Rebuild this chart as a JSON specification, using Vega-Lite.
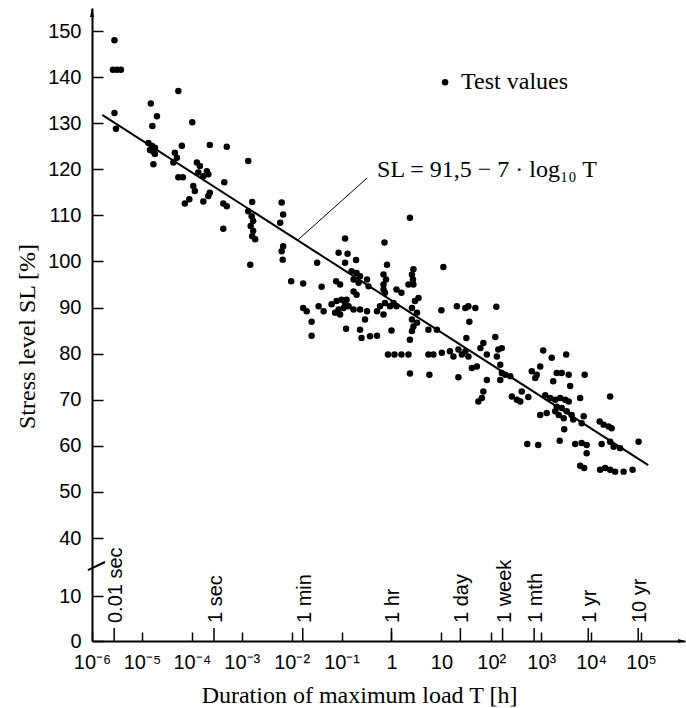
{
  "$schema": "https://vega.github.io/schema/vega-lite/v6.json",
  "width": 593,
  "height": 633,
  "autosize": {"type": "none"},
  "padding": {"left": 92, "top": 8, "right": 1, "bottom": 67},
  "background": "white",
  "config": {
    "view": {"stroke": null},
    "font": "Liberation Sans",
    "axis": {"grid": false, "domainColor": "black", "tickColor": "black", "labelColor": "black", "titleColor": "black"}
  },
  "layer": [
    {
      "data": {"values": [
        {"T": 2.82e-6, "SL": 148.0}, {"T": 2.63e-6, "SL": 141.6}, {"T": 3.16e-6, "SL": 141.6}, {"T": 3.80e-6, "SL": 141.6},
        {"T": 2.82e-6, "SL": 132.2}, {"T": 3.02e-6, "SL": 128.8}, {"T": 1.51e-5, "SL": 134.3}, {"T": 2.00e-5, "SL": 131.5},
        {"T": 1.62e-5, "SL": 129.4}, {"T": 5.37e-5, "SL": 137.0}, {"T": 1.02e-4, "SL": 130.2}, {"T": 1.35e-5, "SL": 125.7},
        {"T": 1.58e-5, "SL": 125.1}, {"T": 1.82e-5, "SL": 124.7}, {"T": 1.45e-5, "SL": 124.2}, {"T": 1.70e-5, "SL": 123.8},
        {"T": 1.82e-5, "SL": 123.3}, {"T": 1.70e-5, "SL": 121.1}, {"T": 6.31e-5, "SL": 125.1}, {"T": 4.57e-5, "SL": 123.6},
        {"T": 5.01e-5, "SL": 122.5}, {"T": 4.27e-5, "SL": 121.5}, {"T": 5.37e-5, "SL": 118.3}, {"T": 6.61e-5, "SL": 118.3},
        {"T": 1.26e-4, "SL": 121.5}, {"T": 1.45e-4, "SL": 120.7}, {"T": 1.35e-4, "SL": 119.3}, {"T": 2.00e-4, "SL": 119.6},
        {"T": 2.14e-4, "SL": 118.9}, {"T": 1.70e-4, "SL": 118.5}, {"T": 2.29e-4, "SL": 125.3}, {"T": 5.01e-4, "SL": 124.9},
        {"T": 1.07e-4, "SL": 116.4}, {"T": 1.15e-4, "SL": 115.3}, {"T": 7.24e-5, "SL": 112.6}, {"T": 8.91e-5, "SL": 113.5},
        {"T": 1.70e-4, "SL": 113.0}, {"T": 2.14e-4, "SL": 114.2}, {"T": 2.29e-4, "SL": 114.9}, {"T": 4.47e-4, "SL": 117.2},
        {"T": 4.27e-4, "SL": 112.6}, {"T": 5.01e-4, "SL": 112.0}, {"T": 4.27e-4, "SL": 107.1},
        {"T": 1.35e-3, "SL": 121.8}, {"T": 1.62e-3, "SL": 112.9}, {"T": 1.35e-3, "SL": 110.9}, {"T": 1.58e-3, "SL": 109.8},
        {"T": 1.70e-3, "SL": 108.8}, {"T": 1.51e-3, "SL": 107.7}, {"T": 1.70e-3, "SL": 106.6}, {"T": 1.62e-3, "SL": 105.5},
        {"T": 1.86e-3, "SL": 104.8}, {"T": 1.48e-3, "SL": 99.3}, {"T": 6.31e-3, "SL": 112.8}, {"T": 6.76e-3, "SL": 110.2},
        {"T": 5.89e-3, "SL": 108.4}, {"T": 6.76e-3, "SL": 103.3}, {"T": 6.31e-3, "SL": 102.2}, {"T": 6.61e-3, "SL": 100.4},
        {"T": 0.0324, "SL": 99.7}, {"T": 0.00977, "SL": 95.7}, {"T": 0.0170, "SL": 95.2}, {"T": 0.0398, "SL": 94.5},
        {"T": 0.1175, "SL": 105.0}, {"T": 0.0871, "SL": 101.9}, {"T": 0.1318, "SL": 101.7}, {"T": 0.195, "SL": 100.3},
        {"T": 0.1175, "SL": 99.7}, {"T": 0.1585, "SL": 97.9}, {"T": 0.1995, "SL": 97.5}, {"T": 0.2344, "SL": 96.8},
        {"T": 0.1738, "SL": 96.1}, {"T": 0.2188, "SL": 95.4}, {"T": 0.3236, "SL": 96.1}, {"T": 0.3467, "SL": 94.6},
        {"T": 0.0776, "SL": 95.7}, {"T": 0.0933, "SL": 95.0}, {"T": 0.724, "SL": 104.1}, {"T": 0.813, "SL": 99.3},
        {"T": 0.692, "SL": 97.2}, {"T": 0.776, "SL": 96.1}, {"T": 0.692, "SL": 95.0}, {"T": 2.34, "SL": 109.5},
        {"T": 2.75, "SL": 98.3}, {"T": 2.57, "SL": 97.2}, {"T": 2.69, "SL": 96.1}, {"T": 2.75, "SL": 95.0},
        {"T": 10.96, "SL": 98.8},
        {"T": 0.1738, "SL": 93.5}, {"T": 0.1995, "SL": 92.8}, {"T": 0.692, "SL": 93.9}, {"T": 0.741, "SL": 93.2},
        {"T": 1.26, "SL": 93.9}, {"T": 1.58, "SL": 93.2}, {"T": 2.19, "SL": 95.0}, {"T": 3.47, "SL": 92.1},
        {"T": 2.95, "SL": 91.4}, {"T": 0.0170, "SL": 89.9}, {"T": 0.0200, "SL": 89.2}, {"T": 0.0347, "SL": 90.3},
        {"T": 0.0437, "SL": 89.2}, {"T": 0.0631, "SL": 90.7}, {"T": 0.0794, "SL": 91.4}, {"T": 0.1, "SL": 91.7},
        {"T": 0.1175, "SL": 91.0}, {"T": 0.0871, "SL": 89.6}, {"T": 0.1096, "SL": 89.9}, {"T": 0.138, "SL": 90.3},
        {"T": 0.1738, "SL": 89.6}, {"T": 0.0741, "SL": 88.9}, {"T": 0.0933, "SL": 88.5}, {"T": 0.2344, "SL": 89.6},
        {"T": 0.3236, "SL": 89.2}, {"T": 0.1259, "SL": 91.7}, {"T": 0.513, "SL": 89.2}, {"T": 0.589, "SL": 90.3},
        {"T": 0.741, "SL": 91.0}, {"T": 0.933, "SL": 90.3}, {"T": 1.096, "SL": 91.0}, {"T": 0.692, "SL": 88.5},
        {"T": 1.259, "SL": 90.3}, {"T": 2.57, "SL": 89.9}, {"T": 3.24, "SL": 88.9}, {"T": 0.295, "SL": 87.4},
        {"T": 0.0251, "SL": 86.9}, {"T": 0.0251, "SL": 83.9}, {"T": 0.123, "SL": 85.4}, {"T": 0.2344, "SL": 85.2},
        {"T": 0.251, "SL": 83.4}, {"T": 0.3715, "SL": 83.8}, {"T": 0.513, "SL": 83.9}, {"T": 1.0, "SL": 85.0},
        {"T": 2.57, "SL": 87.4}, {"T": 2.75, "SL": 85.9}, {"T": 3.24, "SL": 86.7}, {"T": 2.57, "SL": 84.9},
        {"T": 2.34, "SL": 83.0}, {"T": 5.50, "SL": 85.2}, {"T": 8.13, "SL": 85.2}, {"T": 10.0, "SL": 89.4},
        {"T": 20.4, "SL": 90.3}, {"T": 0.851, "SL": 79.8}, {"T": 1.148, "SL": 79.8}, {"T": 1.585, "SL": 79.8},
        {"T": 2.19, "SL": 79.8}, {"T": 5.50, "SL": 79.8}, {"T": 6.92, "SL": 79.8}, {"T": 2.34, "SL": 75.7},
        {"T": 5.75, "SL": 75.4}, {"T": 21.9, "SL": 74.9},
        {"T": 30.2, "SL": 89.9}, {"T": 34.7, "SL": 90.3}, {"T": 47.9, "SL": 89.9}, {"T": 126, "SL": 90.2},
        {"T": 36.3, "SL": 86.9}, {"T": 31.6, "SL": 83.4}, {"T": 120, "SL": 83.6}, {"T": 10.2, "SL": 80.2},
        {"T": 14.8, "SL": 80.5}, {"T": 17.4, "SL": 79.4}, {"T": 21.9, "SL": 80.9}, {"T": 25.7, "SL": 79.8},
        {"T": 30.2, "SL": 80.5}, {"T": 34.7, "SL": 79.4}, {"T": 69.2, "SL": 82.3}, {"T": 60.3, "SL": 81.2},
        {"T": 81.3, "SL": 79.8}, {"T": 138, "SL": 80.9}, {"T": 162, "SL": 81.2}, {"T": 129, "SL": 79.4},
        {"T": 40.7, "SL": 76.9}, {"T": 51.3, "SL": 77.2}, {"T": 81.3, "SL": 74.3}, {"T": 151, "SL": 77.6},
        {"T": 162, "SL": 75.8}, {"T": 151, "SL": 74.3}, {"T": 191, "SL": 75.4}, {"T": 240, "SL": 75.1},
        {"T": 69.2, "SL": 71.8}, {"T": 64.6, "SL": 70.4}, {"T": 55.0, "SL": 69.6}, {"T": 257, "SL": 70.7},
        {"T": 324, "SL": 70.0}, {"T": 407, "SL": 71.8}, {"T": 380, "SL": 69.6}, {"T": 550, "SL": 70.6},
        {"T": 1096, "SL": 80.7}, {"T": 1622, "SL": 79.1}, {"T": 3162, "SL": 79.8}, {"T": 646, "SL": 76.2},
        {"T": 813, "SL": 75.4}, {"T": 955, "SL": 77.2}, {"T": 759, "SL": 74.7}, {"T": 2042, "SL": 75.8},
        {"T": 2570, "SL": 75.8}, {"T": 3548, "SL": 75.4}, {"T": 3802, "SL": 73.0}, {"T": 7413, "SL": 75.4},
        {"T": 1738, "SL": 74.0}, {"T": 1202, "SL": 71.0}, {"T": 1514, "SL": 70.4}, {"T": 1905, "SL": 70.0},
        {"T": 2399, "SL": 70.4}, {"T": 3020, "SL": 70.0}, {"T": 3548, "SL": 69.6}, {"T": 2042, "SL": 68.5},
        {"T": 2570, "SL": 68.2}, {"T": 3236, "SL": 67.5}, {"T": 4074, "SL": 66.7}, {"T": 4365, "SL": 65.7},
        {"T": 6026, "SL": 70.4}, {"T": 2818, "SL": 66.0}, {"T": 2239, "SL": 66.7}, {"T": 1905, "SL": 67.5},
        {"T": 955, "SL": 66.7}, {"T": 1288, "SL": 67.1}, {"T": 7079, "SL": 66.4}, {"T": 6457, "SL": 64.9},
        {"T": 2884, "SL": 63.6}, {"T": 23990, "SL": 70.7}, {"T": 14790, "SL": 65.3}, {"T": 17780, "SL": 64.6},
        {"T": 22390, "SL": 64.2}, {"T": 25700, "SL": 63.8}, {"T": 89130, "SL": 60.9}, {"T": 525, "SL": 60.4},
        {"T": 871, "SL": 60.2}, {"T": 2344, "SL": 61.1}, {"T": 4786, "SL": 60.4}, {"T": 6457, "SL": 60.6},
        {"T": 8128, "SL": 60.2}, {"T": 8128, "SL": 58.4}, {"T": 16220, "SL": 60.4}, {"T": 23990, "SL": 60.9},
        {"T": 28180, "SL": 59.8}, {"T": 38020, "SL": 59.5}, {"T": 6026, "SL": 55.7}, {"T": 7244, "SL": 55.2},
        {"T": 15140, "SL": 54.8}, {"T": 19050, "SL": 55.2}, {"T": 23990, "SL": 54.8}, {"T": 30200, "SL": 54.4},
        {"T": 44670, "SL": 54.4}, {"T": 67610, "SL": 54.8}
      ]},
      "mark": {"type": "point", "filled": true, "color": "black", "opacity": 1, "size": 42},
      "encoding": {
        "x": {
          "field": "T", "type": "quantitative",
          "scale": {"type": "log", "domain": [1e-6, 758578], "nice": false},
          "axis": {
            "title": "Duration of maximum load T [h]",
            "values": [1e-6, 1e-5, 1e-4, 1e-3, 0.01, 0.1, 1, 10, 100, 1000, 10000, 100000],
            "labelExpr": "round(log(datum.value)/LN10) == 0 ? '1' : round(log(datum.value)/LN10) == 1 ? '10' : '10' + (datum.value < 1 ? '⁻' : '') + ['⁰','¹','²','³','⁴','⁵','⁶'][abs(round(log(datum.value)/LN10))]",
            "tickSize": -9, "tickWidth": 1.5, "domainWidth": 2,
            "labelPadding": 20, "labelFont": "Liberation Sans", "labelFontSize": 20,
            "labelFlush": false, "labelOverlap": false,
            "titleFont": "Liberation Serif", "titleFontSize": 24, "titleFontWeight": "normal",
            "titleX": 267, "titleY": 61, "titleBaseline": "alphabetic", "titleAlign": "center", "titleAnchor": null
          }
        },
        "y": {
          "field": "SL", "type": "quantitative",
          "scale": {"domain": [0, 10, 40, 155], "range": [633, 588, 530, 0], "nice": false, "zero": false},
          "axis": {
            "title": "Stress level SL [%]",
            "values": [0, 10, 40, 50, 60, 70, 80, 90, 100, 110, 120, 130, 140, 150],
            "tickSize": -11, "tickWidth": 1.5, "domainWidth": 2,
            "labelPadding": 22, "labelFont": "Liberation Sans", "labelFontSize": 20,
            "labelFlush": false, "labelOverlap": false,
            "titleFont": "Liberation Serif", "titleFontSize": 24, "titleFontWeight": "normal",
            "titleX": -65, "titleY": 328, "titleAngle": -90, "titleAlign": "center", "titleBaseline": "middle", "titleAnchor": null
          }
        }
      }
    },
    {
      "data": {"values": [{"T": 1.6e-6, "SL": 131.8}, {"T": 1.39e5, "SL": 55.8}]},
      "mark": {"type": "line", "color": "black", "strokeWidth": 2},
      "encoding": {
        "x": {"field": "T", "type": "quantitative"},
        "y": {"field": "SL", "type": "quantitative"}
      }
    },
    {
      "data": {"values": [{"T": 0.0134, "SL": 104.7, "T2": 0.324, "SL2": 118.1}]},
      "mark": {"type": "rule", "color": "black", "strokeWidth": 1},
      "encoding": {
        "x": {"field": "T", "type": "quantitative"},
        "y": {"field": "SL", "type": "quantitative"},
        "x2": {"field": "T2"},
        "y2": {"field": "SL2"}
      }
    },
    {
      "data": {"values": [{"T": 8.3e-7, "SL": 23.4, "T2": 1.82e-6, "SL2": 27.6}]},
      "mark": {"type": "rule", "color": "black", "strokeWidth": 2},
      "encoding": {
        "x": {"field": "T", "type": "quantitative"},
        "y": {"field": "SL", "type": "quantitative"},
        "x2": {"field": "T2"},
        "y2": {"field": "SL2"}
      }
    },
    {
      "data": {"values": [
        {"T": 2.78e-6, "label": "0.01 sec"}, {"T": 2.78e-4, "label": "1 sec"}, {"T": 0.01667, "label": "1 min"},
        {"T": 1, "label": "1 hr"}, {"T": 24, "label": "1 day"}, {"T": 168, "label": "1 week"},
        {"T": 720, "label": "1 mth"}, {"T": 8760, "label": "1 yr"}, {"T": 87600, "label": "10 yr"}
      ]},
      "layer": [
        {
          "mark": {"type": "rule", "color": "black", "strokeWidth": 1.5},
          "encoding": {
            "x": {"field": "T", "type": "quantitative"},
            "y": {"datum": 0},
            "y2": {"datum": 2.9}
          }
        },
        {
          "mark": {"type": "text", "angle": 270, "align": "left", "baseline": "middle", "dy": 2, "font": "Liberation Sans", "fontSize": 20, "color": "black"},
          "encoding": {
            "x": {"field": "T", "type": "quantitative"},
            "y": {"datum": 4.0},
            "text": {"field": "label"}
          }
        }
      ]
    },
    {
      "data": {"values": [
        {"T": 0.514, "SL": 118.3, "label": "SL = 91,5 − 7 · log₁₀ T"},
        {"T": 24.8, "SL": 137.4, "label": "Test values"}
      ]},
      "mark": {"type": "text", "align": "left", "baseline": "alphabetic", "font": "Liberation Serif", "fontSize": 24, "color": "black"},
      "encoding": {
        "x": {"field": "T", "type": "quantitative"},
        "y": {"field": "SL", "type": "quantitative"},
        "text": {"field": "label"}
      }
    },
    {
      "data": {"values": [{"T": 11.86, "SL": 138.9}]},
      "mark": {"type": "point", "filled": true, "color": "black", "opacity": 1, "size": 42},
      "encoding": {
        "x": {"field": "T", "type": "quantitative"},
        "y": {"field": "SL", "type": "quantitative"}
      }
    },
    {
      "data": {"values": [{"T": 1e-6, "SL": 155}]},
      "mark": {"type": "point", "filled": true, "color": "black", "opacity": 1, "size": 100, "shape": "M0,0L0.4,1.8L-0.4,1.8Z"},
      "encoding": {
        "x": {"field": "T", "type": "quantitative"},
        "y": {"field": "SL", "type": "quantitative"}
      }
    },
    {
      "data": {"values": [{"T": 758578, "SL": 0}]},
      "mark": {"type": "point", "filled": true, "color": "black", "opacity": 1, "size": 100, "shape": "M0,0L-1.4,-0.4L-1.4,0.4Z"},
      "encoding": {
        "x": {"field": "T", "type": "quantitative"},
        "y": {"field": "SL", "type": "quantitative"}
      }
    }
  ]
}
